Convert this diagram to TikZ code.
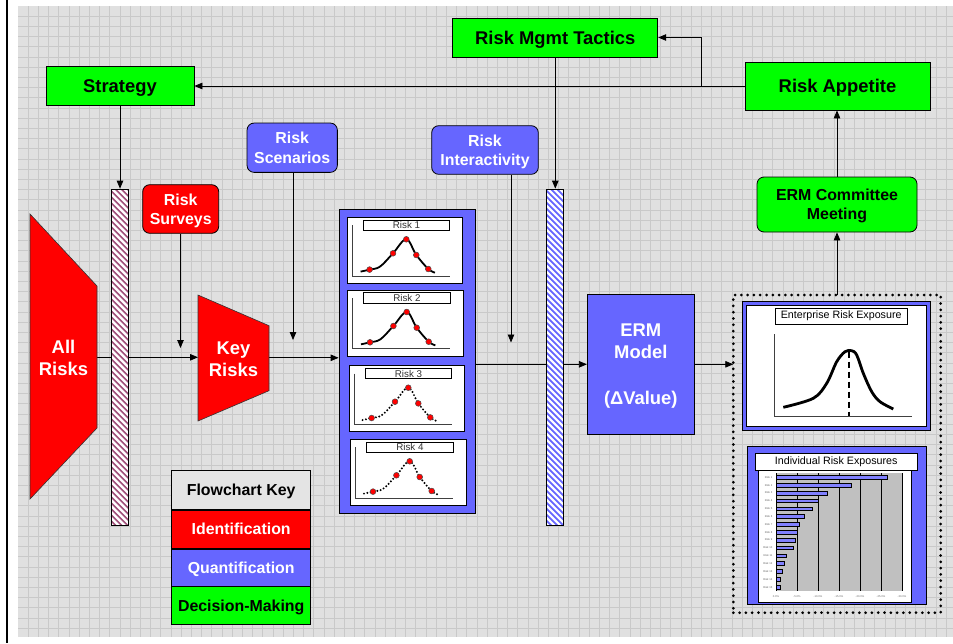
\documentclass[tikz,border=0pt]{standalone}
\usepackage{fontspec}
\setmainfont{Liberation Sans}
\usetikzlibrary{arrows.meta}
\definecolor{grn}{HTML}{00FF00}
\definecolor{rd}{HTML}{FF0000}
\definecolor{bl}{HTML}{6666FF}
\definecolor{bgc}{HTML}{E0E0E0}
\definecolor{gridc}{HTML}{C9C9C9}
\definecolor{hatchr}{HTML}{A0507A}
\definecolor{hatchb}{HTML}{6666FF}
\definecolor{barc}{HTML}{8080FF}
\definecolor{plotc}{HTML}{C0C0C0}
\definecolor{keyc}{HTML}{E4E4E4}
\pgfdeclarelayer{back}
\pgfdeclarelayer{bg}
\pgfsetlayers{back,bg,main}
\newcommand\bigfont{\fontsize{18.4}{21.8}\selectfont\bfseries}
\newcommand\midfont{\fontsize{15.9}{19.3}\selectfont\bfseries}
\newcommand\riskplot[5]{%
 \begin{scope}[shift={(#1,#2)}]
  \node[draw, fill=white, line width=0.7pt, minimum width=115.4pt, minimum height=66pt, anchor=north west, inner sep=0pt, outer sep=0pt] (#4) at (0,0) {};
  \node[draw, fill=white, line width=0.6pt, minimum width=86.4pt, minimum height=10.3pt, inner sep=0pt, font=\fontsize{9.8}{10}\selectfont, text=black!80] (#4t) at (59.2,7.85) {#3};
  \draw[line width=0.9pt, black!75] (5,8) -- (5,58.7) -- (102.7,58.7);
  \draw[#5] plot[smooth, tension=0.6] coordinates {(13.3,54.3) (22.3,52.3) (32.7,49.3) (45.7,36) (59,22) (69,37.7) (81,51.7) (87.7,55.3)};
  \foreach \p in {(22.3,52.3),(45.7,36),(59,22),(69,37.7),(81,51.7)} \fill[rd, draw=black!70, line width=0.5pt] \p circle (2.9pt);
 \end{scope}}
\begin{document}
\begin{tikzpicture}[x=1pt,y=-1pt,
 arr/.style={-{Triangle[length=8pt,width=6.5pt]}, line width=0.8pt},
 gbox/.style={draw=black, line width=0.8pt, fill=grn, inner sep=0pt, align=center, font=\bigfont, text depth=0pt},
 rbox/.style={draw=black, line width=0.8pt, fill=rd, text=white, rounded corners=7pt, inner sep=0pt, align=center, font=\midfont, text depth=0pt},
 bbox/.style={draw=black, line width=0.8pt, fill=bl, text=white, rounded corners=7pt, inner sep=0pt, align=center, font=\midfont, text depth=0pt},
 keybox/.style={draw=black, line width=0.8pt, minimum width=139pt, inner sep=0pt, font=\midfont, text depth=0pt},
 hatch/.style={draw=black, line width=0.7pt, fill=white, inner sep=0pt, minimum width=17pt, minimum height=336pt,
   path picture={\foreach \k in {-362,-356,...,30} \draw[#1, line width=1.7pt] ([xshift=\k pt]path picture bounding box.north west) -- ++(400pt,-400pt);}},
 solcurve/.style={line width=1.8pt},
 dotcurve/.style={line width=2.2pt, dash pattern=on 0pt off 3.4pt, line cap=round},
 tinyf/.style={font=\fontsize{2.7}{3}\selectfont, text=black!60, inner sep=0pt}]
\useasboundingbox (0,0) rectangle (953,643);
\begin{pgfonlayer}{back}
 \fill[white] (0,0) rectangle (953,643);
 \fill[bgc] (18,6) rectangle (953,637);
 \foreach \i in {1,...,91} \draw[gridc, line width=0.6pt] ({17.8+10.2*\i},6) -- ({17.8+10.2*\i},637);
 \foreach \j in {1,...,61} \draw[gridc, line width=0.6pt] (18,{5.8+10.2*\j}) -- (953,{5.8+10.2*\j});
 \fill[black] (5.8,0) rectangle (8.3,643);
\end{pgfonlayer}

% decision boxes
\node[gbox, minimum width=148pt, minimum height=39pt] (strat) at (120,86) {Strategy};
\node[gbox, minimum width=205pt, minimum height=39pt] (rmt) at (555.3,37.5) {Risk Mgmt Tactics};
\node[gbox, minimum width=185pt, minimum height=48pt] (rapp) at (837.5,86) {Risk Appetite};
\node[gbox, rounded corners=7pt, font=\midfont, minimum width=160pt, minimum height=55pt] (erc) at (837,204.5) {ERM Committee\\Meeting};

% identification / quantification inputs
\node[rbox, minimum width=76pt, minimum height=48.6pt] (rsv) at (180.7,209) {Risk\\Surveys};
\node[bbox, minimum width=90.3pt, minimum height=49.3pt] (rsc) at (292.2,147.7) {Risk\\Scenarios};
\node[bbox, minimum width=106.6pt, minimum height=48.6pt] (rint) at (485,150) {Risk\\Interactivity};

% trapezoids
\fill[rd, draw=black!80, line width=0.6pt] (30,214) -- (97,286) -- (97,428) -- (30,499) -- cycle;
\node[text=white, font=\bigfont, align=center] (allr) at (63.5,358) {All\\Risks};
\fill[rd, draw=black!80, line width=0.6pt] (198,295) -- (269,325.7) -- (269,390.7) -- (198,421) -- cycle;
\node[text=white, font=\bigfont, align=center] (keyr) at (233.5,359) {Key\\Risks};
\coordinate (arE) at (97,357.3);
\coordinate (krW) at (198,357.3);
\coordinate (krE) at (269,357.8);

% hatched bars
\node[hatch=hatchr] (lbar) at (119.8,357) {};
\node[hatch=hatchb] (bbar) at (555.3,357) {};

% risk distribution panel
\node[draw=black, line width=0.8pt, fill=bl, minimum width=136.7pt, minimum height=304pt, inner sep=0pt] (rpan) at (407.35,361.3) {};
\riskplot{347.3}{217.3}{Risk 1}{rp1}{solcurve}
\riskplot{347.7}{290}{Risk 2}{rp2}{solcurve}
\riskplot{349.3}{365.7}{Risk 3}{rp3}{dotcurve}
\riskplot{350.7}{439.3}{Risk 4}{rp4}{dotcurve}
\coordinate (rpanE) at (475.7,364.3);

% ERM model
\node[draw=black, line width=0.8pt, fill=bl, text=white, align=center, font=\fontsize{18.4}{21.5}\selectfont\bfseries, minimum width=107pt, minimum height=140.3pt, inner sep=0pt, text depth=0pt] (erm) at (640.8,364.3) {ERM\\Model\\[24.5pt](ΔValue)};

% dotted output box
\node[draw=black, line width=3pt, dash pattern=on 0pt off 6.3pt, line cap=round, minimum width=207.4pt, minimum height=317.7pt, inner sep=0pt, outer sep=0pt] (dbox) at (837,453.85) {};

% enterprise risk exposure
\draw[fill=bl, line width=0.8pt] (742.3,301) rectangle (930,430);
\draw[fill=white, line width=0.6pt] (746,305) rectangle (926,426);
\node[draw, fill=white, line width=0.7pt, minimum width=132.3pt, minimum height=15.7pt, inner sep=0pt, font=\fontsize{10.7}{12}\selectfont] (ertitle) at (841.2,316.2) {Enterprise Risk Exposure};
\draw[line width=1pt, black!75] (774,334.3) -- (774,416) -- (911.7,416);
\draw[line width=2.8pt, line join=round] plot[smooth, tension=0.55] coordinates {(783.3,407.3) (813.3,398.3) (826.7,383.3) (836.7,361.7) (845,351.7) (851.7,350.7) (856.7,355) (863.3,373.3) (871.7,391.7) (880,401.7) (893.3,409)};
\draw[line width=2.3pt, dash pattern=on 6pt off 4pt] (849,351.5) -- (849,416);

% individual risk exposures
\draw[fill=bl, line width=0.8pt] (747,446.7) rectangle (926.7,604.3);
\draw[fill=white, line width=0.6pt] (758.3,453.3) rectangle (911.7,602.3);
\node[draw, fill=white, line width=0.7pt, minimum width=162.3pt, minimum height=16.7pt, inner sep=0pt, font=\fontsize{10.7}{12}\selectfont] (irtitle) at (836.2,461.7) {Individual Risk Exposures};
\fill[plotc] (776,473.3) rectangle (902,591);
\foreach \k in {1,...,6} \draw[line width=0.7pt] ({776+21*\k},473.3) -- ({776+21*\k},591);
\draw[line width=0.8pt] (776,473.3) -- (776,591);
\foreach \l [count=\i] in {111.7,75.7,51,42.3,36.3,28.3,23.3,21,19.3,17.7,10.7,8.7,6.7,4.7,4.7} {
  \draw[fill=barc, line width=0.55pt] (776,{477.3+7.84*(\i-1)-1.8}) rectangle ({776+\l},{477.3+7.84*(\i-1)+1.8});
  \node[tinyf, anchor=east] at (772.5,{477.3+7.84*(\i-1)}) {Risk \i};
}
\foreach \t [count=\k from 0] in {0.0\%,-5.0\%,-10.0\%,-15.0\%,-20.0\%,-25.0\%,-30.0\%}
  \node[tinyf] at ({776+21*\k},596.5) {\t};

% flowchart key
\node[keybox, fill=keyc, minimum height=38.6pt] (k0) at (241.2,490) {Flowchart Key};
\node[keybox, fill=rd, text=white, minimum height=38pt, anchor=north] (k1) at (k0.south) {Identification};
\node[keybox, fill=bl, text=white, minimum height=37pt, anchor=north] (k2) at (k1.south) {Quantification};
\node[keybox, fill=grn, minimum height=38pt, anchor=north] (k3) at (k2.south) {Decision-Making};

% free ends
\coordinate (jn) at (701,86);
\coordinate (rsvE) at (180.5,348);
\coordinate (rscE) at (293,340);
\coordinate (rintE) at (511,342.5);

% connectors
\begin{pgfonlayer}{bg}
 \draw[arr] (rapp.west) -- (strat.east);
 \draw[arr] (jn) |- (rmt.east);
 \draw[arr] (rmt.south) -- (rmt.south |- bbar.north);
 \draw[arr] (strat.south) -- (strat.south |- lbar.north);
 \draw[arr] (erc.north) -- (erc.north |- rapp.south);
 \draw[arr] (dbox.north) -- (erc.south);
 \draw[arr] (arE) -- (krW);
 \draw[arr] (rsv.south -| rsvE) -- (rsvE);
 \draw[arr] (rsc.south -| rscE) -- (rscE);
 \draw[arr] (krE) -- (krE -| rpan.west);
 \draw[arr] (rint.south -| rintE) -- (rintE);
 \draw[arr] (rpanE) -- (rpanE -| erm.west);
 \draw[arr] (erm.east) -- (erm.east -| dbox.west);
\end{pgfonlayer}
\end{tikzpicture}
\end{document}
